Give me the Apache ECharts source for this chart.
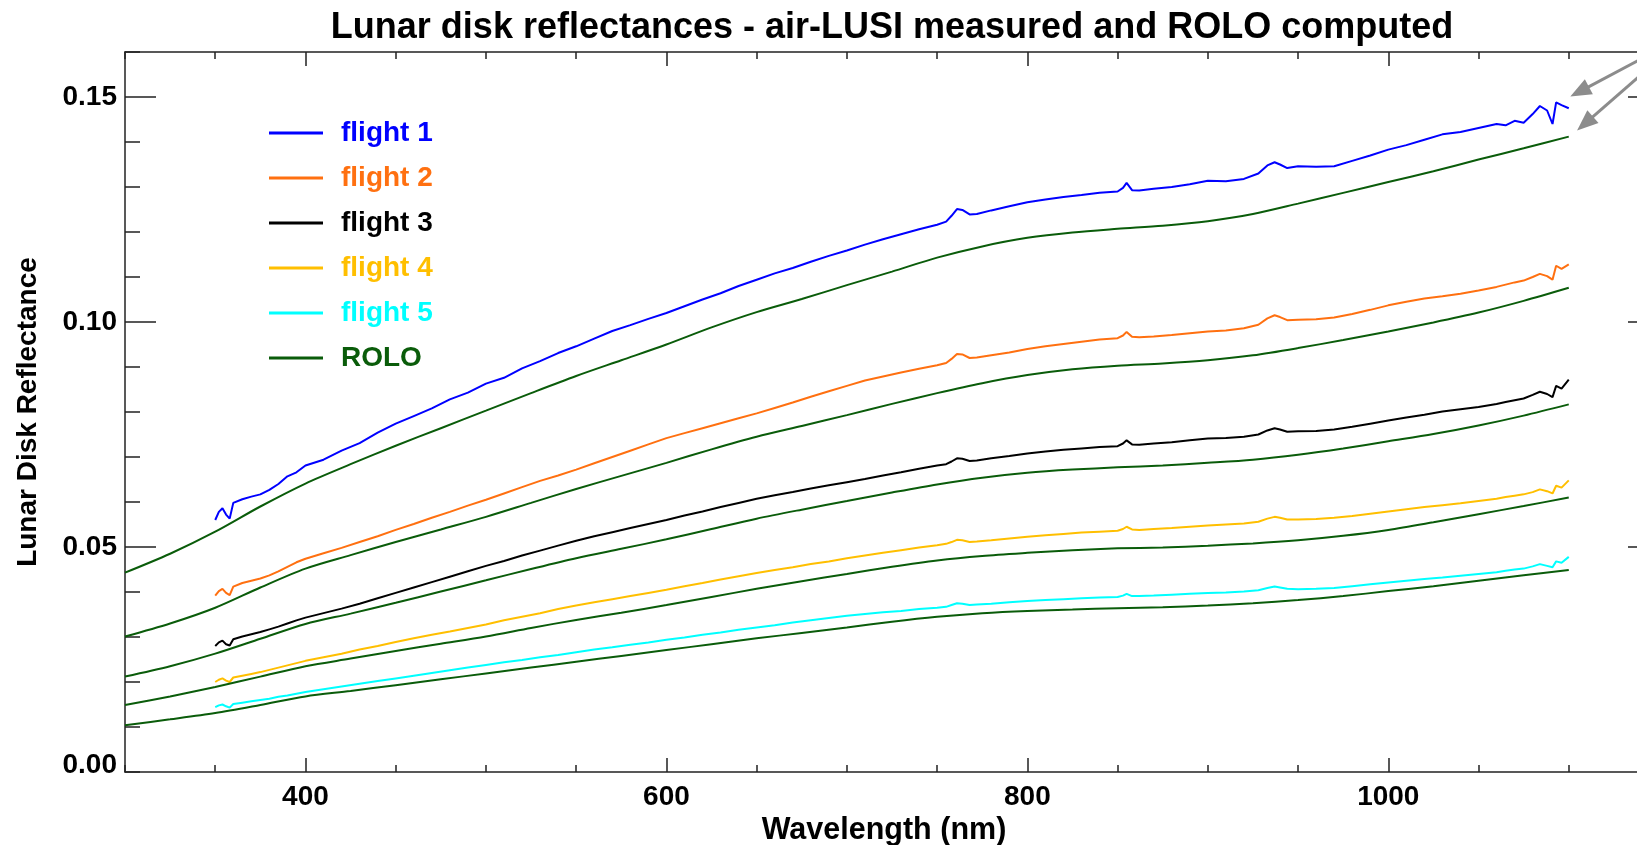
<!DOCTYPE html>
<html>
<head>
<meta charset="utf-8">
<script src="https://cdn.jsdelivr.net/npm/echarts@6/dist/echarts.min.js"></script>
<style>
html,body{margin:0;padding:0;background:#fff;overflow:hidden;width:1637px;height:845px;}
#chart{width:1700px;height:845px;}
</style>
</head>
<body>
<div id="chart"></div>
<script>
// ---------------- DATA ----------------
const TITLE = 'Lunar disk reflectances - air-LUSI measured and ROLO computed';
const X_NAME = 'Wavelength (nm)';
const Y_NAME = 'Lunar Disk Reflectance';
const X_LABELS = [400, 600, 800, 1000];
const Y_LABELS = [0, 0.05, 0.10, 0.15];
const Y_MAJOR_TICKS = [0.05, 0.10, 0.15];

const LEGEND_NAMES = ['flight 1', 'flight 2', 'flight 3', 'flight 4', 'flight 5', 'ROLO'];
const COLORS = ['#0000ff', '#ff7010', '#000000', '#ffbf00', '#00ffff', '#0a5c0a'];

// measured (air-LUSI) wavelengths, nm
const WL_MEASURED = [
  350,352,354,356,358,360,365,370,375,380,
  385,390,395,400,410,420,430,440,450,460,
  470,480,490,500,510,520,530,540,550,560,
  570,580,590,600,610,620,630,640,650,660,
  670,680,690,700,710,720,730,740,750,755,
  758,761,764,768,772,780,790,800,810,820,
  830,840,850,853,855,858,862,870,880,890,
  900,910,920,928,933,937,940,944,950,960,
  970,980,990,1000,1010,1020,1030,1040,1050,1060,
  1065,1070,1075,1080,1084,1088,1091,1093,1096,1100
];
const FLIGHT_1 = [
  0.0560,0.0578,0.0586,0.0572,0.0563,0.0598,0.0606,0.0612,0.0617,0.0627,
  0.0640,0.0657,0.0666,0.0681,0.0694,0.0714,0.0731,0.0754,0.0774,0.0791,
  0.0808,0.0828,0.0843,0.0863,0.0876,0.0897,0.0913,0.0931,0.0946,0.0963,
  0.0980,0.0993,0.1007,0.1020,0.1035,0.1050,0.1064,0.1080,0.1094,0.1108,
  0.1120,0.1134,0.1147,0.1159,0.1172,0.1184,0.1195,0.1206,0.1216,0.1223,
  0.1236,0.1251,0.1249,0.1239,0.1240,0.1248,0.1257,0.1266,0.1272,0.1278,
  0.1282,0.1287,0.1290,0.1298,0.1309,0.1293,0.1292,0.1296,0.1300,0.1306,
  0.1314,0.1313,0.1318,0.1330,0.1348,0.1355,0.1350,0.1342,0.1346,0.1345,
  0.1346,0.1358,0.1370,0.1383,0.1393,0.1405,0.1417,0.1422,0.1431,0.1440,
  0.1437,0.1447,0.1443,0.1462,0.1480,0.1470,0.1440,0.1488,0.1482,0.1475
];
const FLIGHT_2 = [
  0.0392,0.0402,0.0407,0.0398,0.0393,0.0412,0.0420,0.0425,0.0430,0.0437,
  0.0446,0.0456,0.0466,0.0474,0.0486,0.0498,0.0511,0.0524,0.0538,0.0551,
  0.0565,0.0578,0.0592,0.0605,0.0619,0.0633,0.0647,0.0659,0.0672,0.0686,
  0.0700,0.0714,0.0728,0.0742,0.0753,0.0764,0.0775,0.0786,0.0797,0.0809,
  0.0821,0.0834,0.0846,0.0858,0.0870,0.0879,0.0888,0.0896,0.0904,0.0909,
  0.0918,0.0929,0.0928,0.0920,0.0921,0.0926,0.0932,0.0940,0.0946,0.0951,
  0.0956,0.0961,0.0964,0.0970,0.0978,0.0967,0.0966,0.0968,0.0971,0.0975,
  0.0979,0.0981,0.0986,0.0994,0.1008,0.1015,0.1011,0.1004,0.1005,0.1006,
  0.1010,0.1018,0.1027,0.1037,0.1045,0.1052,0.1057,0.1063,0.1070,0.1078,
  0.1083,0.1088,0.1092,0.1100,0.1107,0.1102,0.1094,0.1125,0.1118,0.1128
];
const FLIGHT_3 = [
  0.0280,0.0288,0.0292,0.0284,0.0281,0.0295,0.0301,0.0306,0.0311,0.0317,
  0.0323,0.0330,0.0337,0.0343,0.0353,0.0363,0.0374,0.0386,0.0398,0.0410,
  0.0422,0.0434,0.0446,0.0458,0.0469,0.0481,0.0492,0.0503,0.0514,0.0524,
  0.0533,0.0542,0.0551,0.0560,0.0570,0.0579,0.0589,0.0598,0.0607,0.0615,
  0.0622,0.0630,0.0637,0.0644,0.0651,0.0659,0.0666,0.0674,0.0681,0.0684,
  0.0690,0.0697,0.0696,0.0691,0.0692,0.0697,0.0702,0.0708,0.0712,0.0716,
  0.0719,0.0722,0.0724,0.0730,0.0737,0.0728,0.0727,0.0730,0.0733,0.0737,
  0.0741,0.0742,0.0745,0.0750,0.0759,0.0764,0.0761,0.0756,0.0757,0.0758,
  0.0761,0.0767,0.0774,0.0781,0.0788,0.0794,0.0801,0.0806,0.0811,0.0818,
  0.0822,0.0826,0.0830,0.0838,0.0845,0.0840,0.0833,0.0858,0.0852,0.0872
];
const FLIGHT_4 = [
  0.0200,0.0205,0.0208,0.0203,0.0200,0.0210,0.0214,0.0218,0.0222,0.0227,
  0.0232,0.0237,0.0242,0.0247,0.0255,0.0263,0.0272,0.0280,0.0289,0.0297,
  0.0305,0.0312,0.0320,0.0328,0.0337,0.0345,0.0353,0.0362,0.0370,0.0377,
  0.0384,0.0391,0.0398,0.0405,0.0413,0.0420,0.0428,0.0435,0.0442,0.0449,
  0.0455,0.0462,0.0468,0.0475,0.0481,0.0487,0.0493,0.0499,0.0504,0.0507,
  0.0511,0.0516,0.0515,0.0511,0.0512,0.0515,0.0519,0.0523,0.0526,0.0529,
  0.0532,0.0534,0.0536,0.0540,0.0545,0.0539,0.0538,0.0540,0.0542,0.0545,
  0.0548,0.0550,0.0552,0.0556,0.0563,0.0567,0.0565,0.0561,0.0561,0.0562,
  0.0565,0.0569,0.0574,0.0579,0.0584,0.0589,0.0593,0.0597,0.0602,0.0607,
  0.0611,0.0614,0.0617,0.0622,0.0628,0.0624,0.0619,0.0636,0.0632,0.0648
];
const FLIGHT_5 = [
  0.0144,0.0148,0.0150,0.0146,0.0143,0.0151,0.0154,0.0157,0.0160,0.0163,
  0.0167,0.0170,0.0174,0.0178,0.0184,0.0190,0.0196,0.0202,0.0208,0.0214,
  0.0220,0.0226,0.0232,0.0238,0.0244,0.0249,0.0255,0.0260,0.0266,0.0272,
  0.0277,0.0283,0.0288,0.0294,0.0299,0.0305,0.0310,0.0316,0.0321,0.0326,
  0.0332,0.0337,0.0342,0.0347,0.0351,0.0355,0.0358,0.0362,0.0365,0.0367,
  0.0371,0.0375,0.0374,0.0371,0.0372,0.0374,0.0377,0.0380,0.0382,0.0384,
  0.0386,0.0388,0.0389,0.0392,0.0396,0.0391,0.0391,0.0392,0.0394,0.0396,
  0.0398,0.0399,0.0401,0.0404,0.0409,0.0412,0.0410,0.0407,0.0406,0.0407,
  0.0409,0.0413,0.0417,0.0421,0.0425,0.0429,0.0432,0.0436,0.0440,0.0444,
  0.0447,0.0450,0.0452,0.0457,0.0462,0.0458,0.0455,0.0468,0.0465,0.0478
];

// ROLO computed wavelengths, nm
const WL_ROLO = [
  300,325,350,375,400,425,450,475,500,525,550,575,600,625,650,675,700,
  725,750,775,800,825,850,875,900,925,950,975,1000,1025,1050,1075,1100
];
const ROLO_1 = [
  0.0443,0.0485,0.0534,0.0590,0.0641,0.0684,0.0725,0.0764,0.0803,0.0842,0.0880,0.0915,0.0950,0.0988,0.1022,0.1051,0.1082,
  0.1112,0.1143,0.1168,0.1187,0.1199,0.1207,0.1214,0.1224,0.1240,0.1263,0.1287,0.1311,0.1335,0.1361,0.1386,0.1412
];
const ROLO_2 = [
  0.0301,0.0330,0.0365,0.0410,0.0452,0.0482,0.0511,0.0539,0.0567,0.0598,0.0629,0.0658,0.0687,0.0717,0.0745,0.0769,0.0793,
  0.0818,0.0842,0.0864,0.0882,0.0895,0.0903,0.0908,0.0915,0.0926,0.0942,0.0960,0.0979,0.0999,0.1021,0.1047,0.1076
];
const ROLO_3 = [
  0.0212,0.0235,0.0263,0.0296,0.0329,0.0352,0.0376,0.0401,0.0426,0.0451,0.0475,0.0496,0.0517,0.0540,0.0563,0.0583,0.0602,
  0.0621,0.0639,0.0654,0.0665,0.0672,0.0677,0.0681,0.0687,0.0694,0.0705,0.0719,0.0735,0.0751,0.0770,0.0792,0.0817
];
const ROLO_4 = [
  0.0149,0.0168,0.0189,0.0212,0.0235,0.0252,0.0269,0.0285,0.0301,0.0320,0.0338,0.0354,0.0371,0.0389,0.0407,0.0424,0.0440,
  0.0456,0.0470,0.0480,0.0487,0.0493,0.0497,0.0499,0.0503,0.0508,0.0515,0.0525,0.0538,0.0555,0.0573,0.0591,0.0610
];
const ROLO_5 = [
  0.0104,0.0117,0.0131,0.0149,0.0168,0.0180,0.0193,0.0206,0.0219,0.0232,0.0245,0.0258,0.0271,0.0284,0.0297,0.0309,0.0321,
  0.0334,0.0345,0.0353,0.0358,0.0361,0.0364,0.0366,0.0370,0.0375,0.0382,0.0391,0.0402,0.0413,0.0425,0.0437,0.0449
];

// annotation arrows: [tail, head] in data coordinates
const ARROWS = [
  [[1145, 0.1595], [1106, 0.1512]],
  [[1150, 0.1584], [1109, 0.1441]]
];

// ---------------- CHART ----------------
const FONT = '"Liberation Sans", Arial, Helvetica, sans-serif';
const X_MIN = 300, X_MAX = 1150, Y_MIN = 0, Y_MAX = 0.16;
const lineCol = {color: '#222', width: 1.5};
const labelFont = {fontFamily: FONT, fontWeight: 'bold', fontSize: 28, color: '#000'};

const flights = [FLIGHT_1, FLIGHT_2, FLIGHT_3, FLIGHT_4, FLIGHT_5];
const rolos = [ROLO_1, ROLO_2, ROLO_3, ROLO_4, ROLO_5];

const series = [];
flights.forEach((arr, i) => {
  const s = {
    name: LEGEND_NAMES[i],
    type: 'line',
    data: arr.map((v, k) => [WL_MEASURED[k], v]),
    showSymbol: false,
    symbol: 'none',
    smooth: false,
    lineStyle: {color: COLORS[i], width: 2},
    itemStyle: {color: COLORS[i]},
    emphasis: {disabled: true},
    z: 3
  };
  if (i === 0) {
    s.markLine = {
      silent: true,
      animation: false,
      symbol: ['none', 'triangle'],
      symbolSize: [17, 21],
      label: {show: false},
      emphasis: {disabled: true},
      lineStyle: {color: '#8c8c8c', width: 3, type: 'solid'},
      itemStyle: {color: '#8c8c8c'},
      data: ARROWS.map(a => [{coord: a[0]}, {coord: a[1]}])
    };
  }
  series.push(s);
});
rolos.forEach((arr) => {
  series.push({
    name: 'ROLO',
    type: 'line',
    data: arr.map((v, k) => [WL_ROLO[k], v]),
    showSymbol: false,
    symbol: 'none',
    smooth: 0.3,
    lineStyle: {color: COLORS[5], width: 2},
    itemStyle: {color: COLORS[5]},
    emphasis: {disabled: true},
    z: 4
  });
});

function xAxisDef(position, major) {
  const ax = {
    type: 'value', position: position, min: X_MIN, max: X_MAX,
    axisLine: {show: !major, onZero: false, lineStyle: lineCol},
    axisTick: {show: true, inside: true, length: major ? 14 : 7, lineStyle: lineCol},
    axisLabel: {show: false},
    splitLine: {show: false},
    nameMoveOverlap: false
  };
  if (major) ax.axisTick.customValues = X_LABELS; else ax.interval = 50;
  return ax;
}
function yAxisDef(position, major) {
  const ax = {
    type: 'value', position: position, min: Y_MIN, max: Y_MAX,
    axisLine: {show: !major, onZero: false, lineStyle: lineCol},
    axisTick: {show: true, inside: true, length: major ? 31 : 15, lineStyle: lineCol},
    axisLabel: {show: false},
    splitLine: {show: false},
    nameMoveOverlap: false
  };
  if (major) ax.axisTick.customValues = Y_MAJOR_TICKS; else ax.interval = 0.01;
  return ax;
}

const xMain = xAxisDef('bottom', false);
xMain.axisLabel = Object.assign({
  show: true, customValues: X_LABELS, margin: 11,
  formatter: function (v) { return String(Math.round(v)); }
}, labelFont);
xMain.name = X_NAME;
xMain.nameLocation = 'middle';
xMain.nameGap = 43;
xMain.nameTextStyle = Object.assign({}, labelFont, {fontSize: 30.5, padding: [0, 16, 0, 0]});

const yMain = yAxisDef('left', false);
yMain.axisLabel = Object.assign({
  show: true, customValues: Y_LABELS, margin: 8,
  formatter: function (v) {
    const s = Number(v).toFixed(2);
    return Math.abs(v) < 1e-9 ? '{z|' + s + '}' : s;
  },
  rich: {z: Object.assign({padding: [0, 0, 13, 0]}, labelFont)}
}, labelFont);
yMain.name = Y_NAME;
yMain.nameLocation = 'middle';
yMain.nameGap = 83;
yMain.nameRotate = 90;
yMain.nameTextStyle = labelFont;

const option = {
  animation: false,
  backgroundColor: '#ffffff',
  title: {
    text: TITLE, left: 892, top: 10, padding: 0, textAlign: 'center',
    textStyle: {fontFamily: FONT, fontWeight: 'bold', fontSize: 36, color: '#000'}
  },
  legend: {
    orient: 'vertical', left: 269, top: 119, padding: 0,
    itemWidth: 54, itemHeight: 3, itemGap: 17, icon: 'rect',
    selectedMode: false,
    textStyle: {fontFamily: FONT, fontWeight: 'bold', fontSize: 28, lineHeight: 28, padding: [0, 0, 0, 13]},
    data: LEGEND_NAMES.map((n, i) => ({name: n, textStyle: {color: COLORS[i]}}))
  },
  // plot spans x = 125 .. 1659 px; the right frame lies just past the 1637 px window edge
  grid: {left: 125, top: 52, right: 41, bottom: 73, containLabel: false, outerBoundsMode: 'none'},
  xAxis: [xMain, xAxisDef('bottom', true), xAxisDef('top', false), xAxisDef('top', true)],
  yAxis: [yMain, yAxisDef('left', true), yAxisDef('right', false), yAxisDef('right', true)],
  series: series
};

const chart = echarts.init(document.getElementById('chart'), null, {renderer: 'canvas', width: 1700, height: 845});
chart.setOption(option);
</script>
</body>
</html>
